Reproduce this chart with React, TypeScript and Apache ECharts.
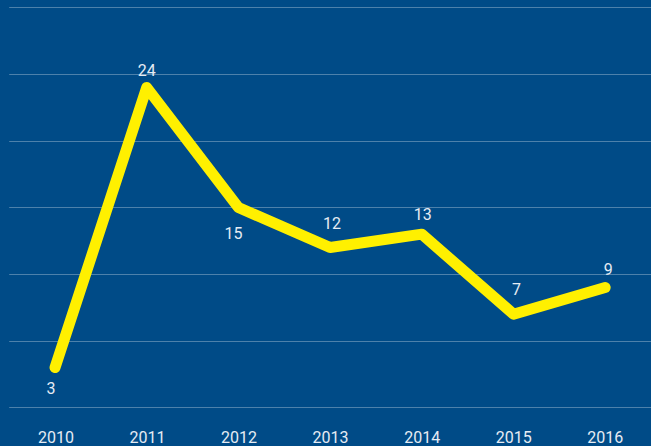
import React, { useEffect, useRef } from "react";
import * as echarts from "echarts";

const categories = ["2010", "2011", "2012", "2013", "2014", "2015", "2016"];
const values = [3, 24, 15, 12, 13, 7, 9];
const labelPositions = ["bottom", "top", "bottom", "top", "top", "top", "top"];
const labelDistances = [12, 9, 17, 16, 11, 16, 10];
const labelOffsetsX = [-4, 0, -5, 2, 1, 3, 3];

export default function App() {
  const ref = useRef<HTMLDivElement>(null);
  useEffect(() => {
    if (!ref.current) return;
    const chart = echarts.init(ref.current, undefined, { renderer: "svg" });
    const textColor = "#E6ECF4";
    chart.setOption({
      animation: false,
      backgroundColor: "#004B87",
      grid: [
        { left: 9.2, right: -0.8, top: 7.5, bottom: 38.5, containLabel: false },
        { left: 10.2, right: -7.4, top: 7.5, bottom: 38.5, containLabel: false },
      ],
      xAxis: [
        {
          type: "category",
          gridIndex: 0,
          data: categories,
          boundaryGap: true,
          axisLine: { show: false },
          axisTick: { show: false },
          axisLabel: { show: false },
        },
        {
          type: "category",
          gridIndex: 1,
          data: categories,
          boundaryGap: true,
          axisLine: { show: false },
          axisTick: { show: false },
          axisLabel: {
            color: textColor,
            fontSize: 16,
            fontFamily: "Roboto",
            margin: 22,
          },
        },
      ],
      yAxis: [
        {
          type: "value",
          gridIndex: 0,
          min: 0,
          max: 30,
          interval: 5,
          axisLabel: { show: false },
          axisLine: { show: false },
          axisTick: { show: false },
          splitLine: { lineStyle: { color: "rgba(255,255,255,0.3)", width: 1 } },
        },
        {
          type: "value",
          gridIndex: 1,
          min: 0,
          max: 30,
          interval: 5,
          show: false,
          splitLine: { show: false },
        },
      ],
      series: [
        {
          type: "line",
          xAxisIndex: 0,
          yAxisIndex: 0,
          data: values.map((v, i) => ({
            value: v,
            label: {
              position: labelPositions[i],
              distance: labelDistances[i],
              offset: [labelOffsetsX[i], 0],
            },
          })),
          symbol: "circle",
          symbolSize: 1,
          showSymbol: true,
          itemStyle: { color: "#FFF000" },
          lineStyle: { color: "#FFF000", width: 11, cap: "round", join: "round" },
          label: {
            show: true,
            color: textColor,
            fontSize: 16,
            fontFamily: "Roboto",
          },
        },
      ],
    });
    return () => chart.dispose();
  }, []);
  return (
    <div
      ref={ref}
      style={{ position: "fixed", left: 0, top: 0, width: 651, height: 446 }}
    />
  );
}
